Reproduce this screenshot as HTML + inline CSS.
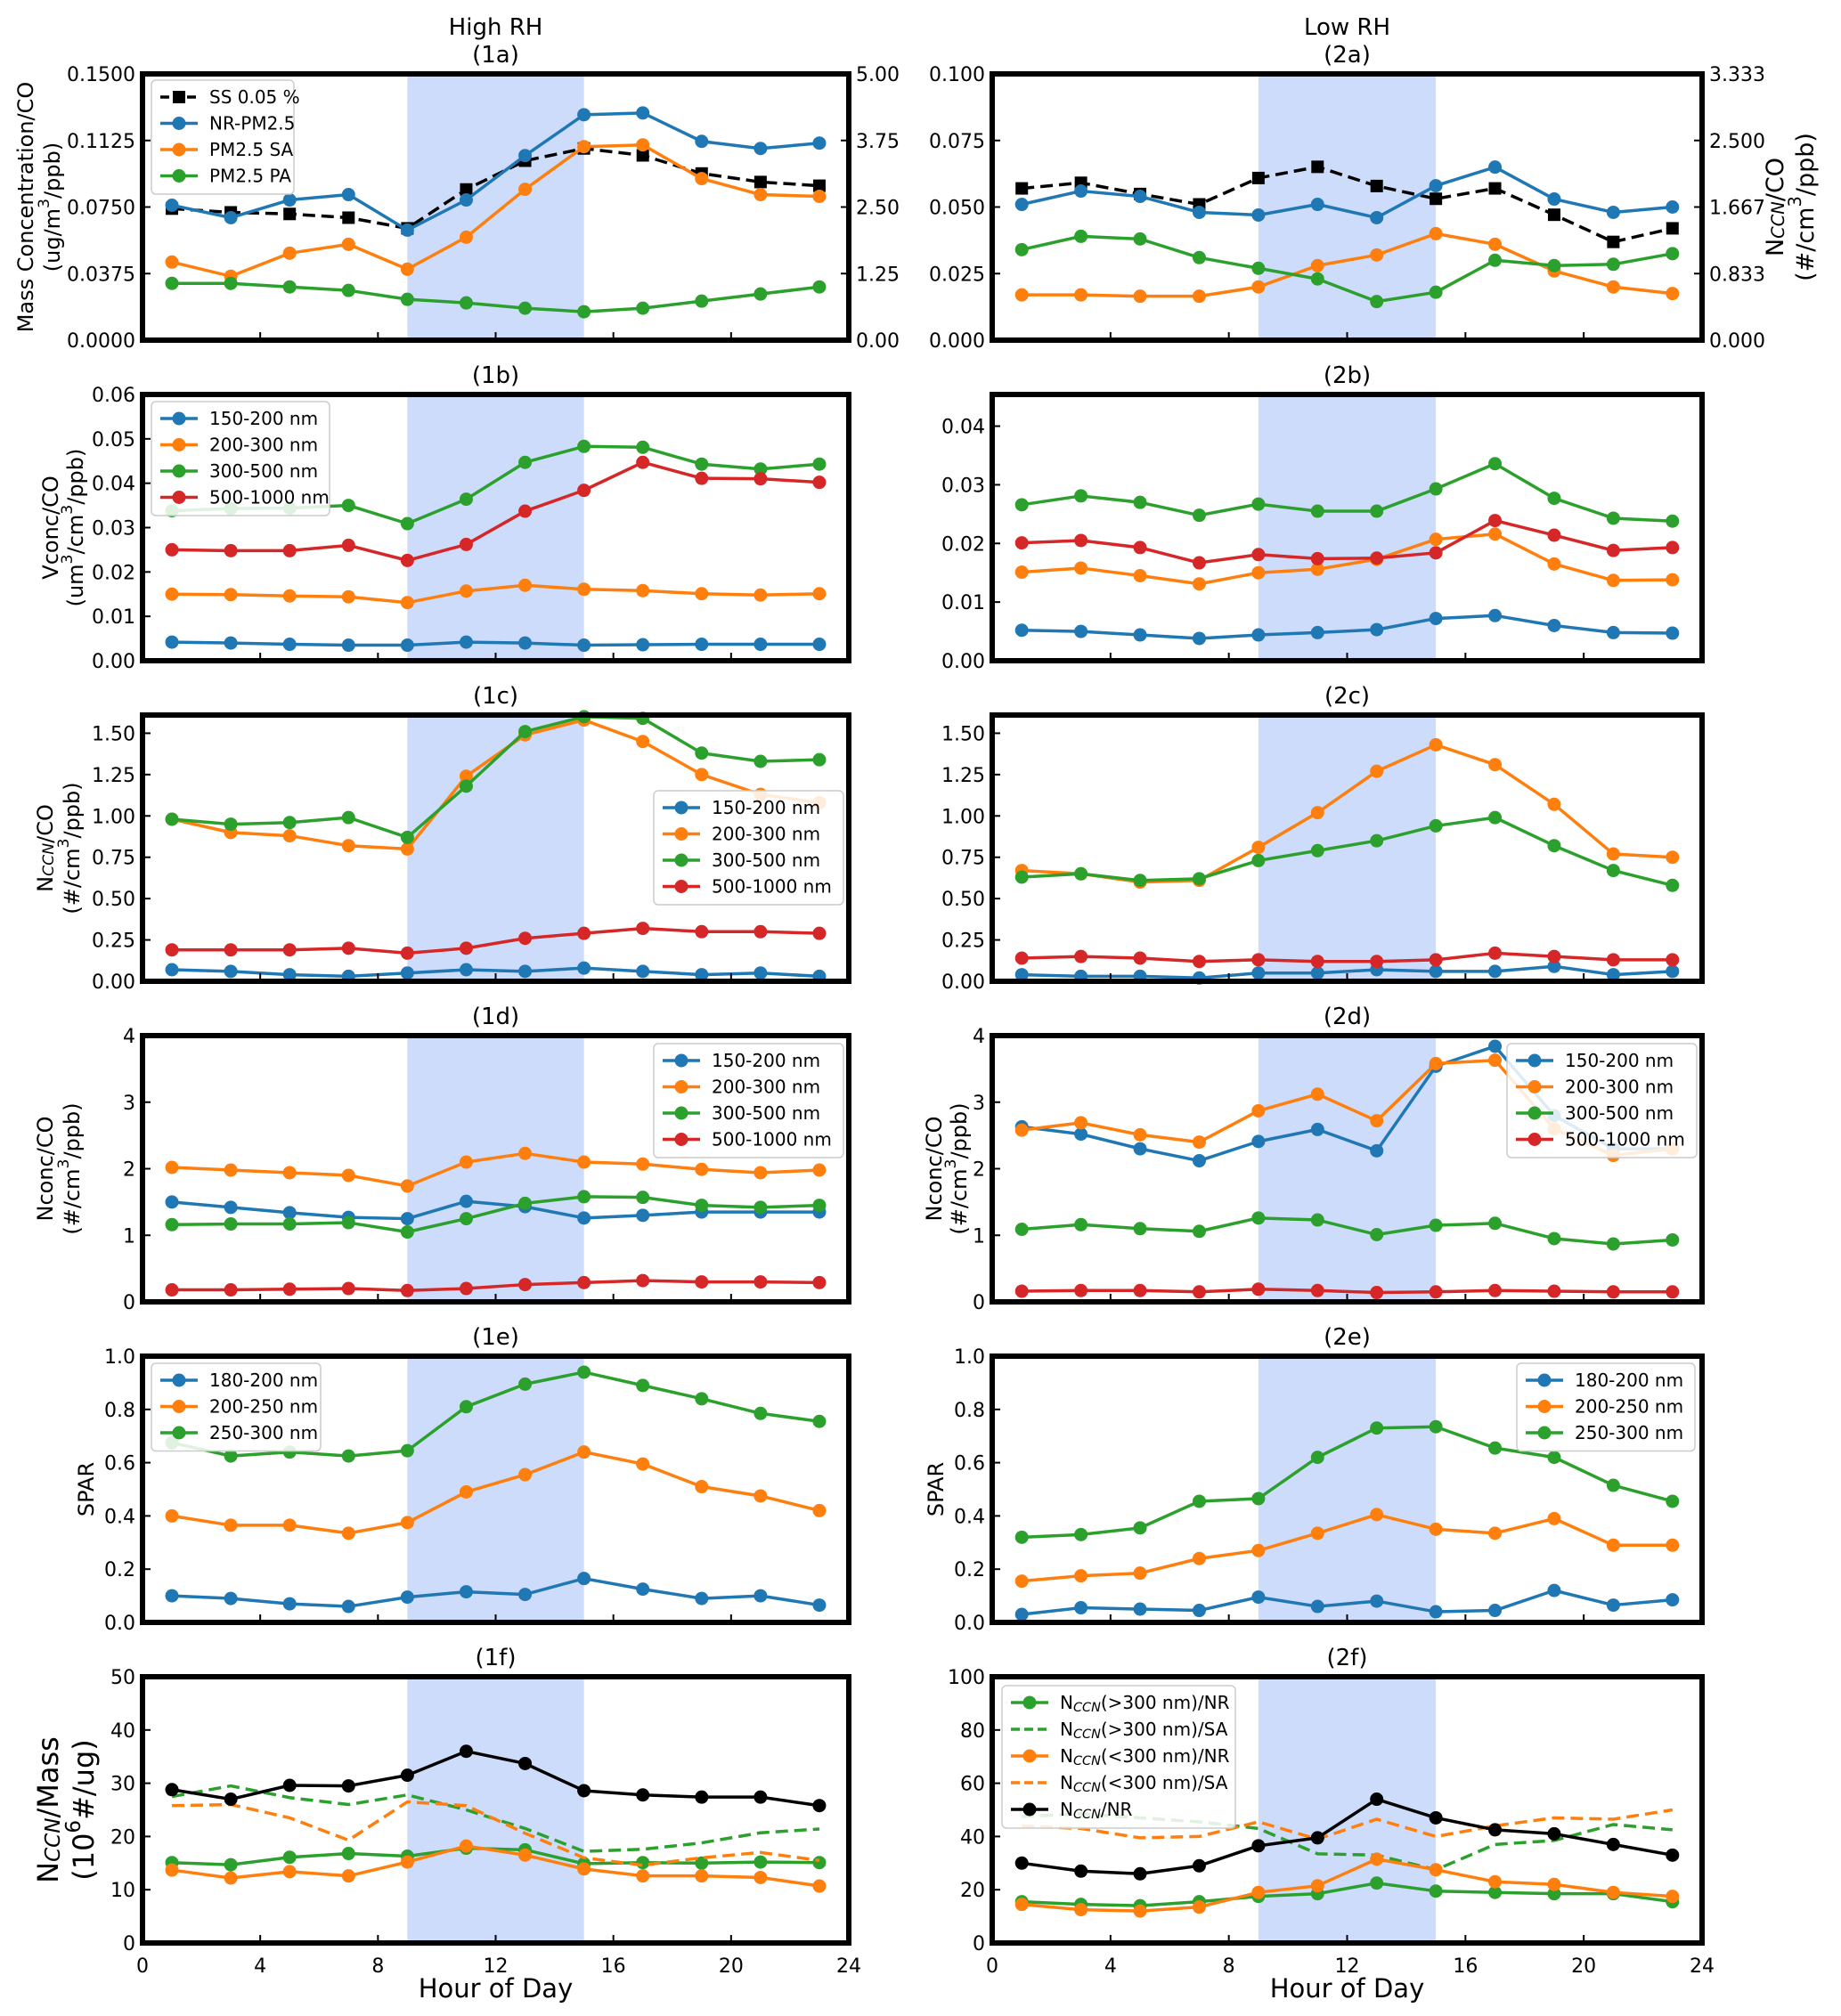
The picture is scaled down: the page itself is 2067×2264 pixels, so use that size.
<!DOCTYPE html>
<html><head><meta charset="utf-8">
<style>
html,body{margin:0;padding:0;background:#fff;}
svg{display:block;font-family:"DejaVu Sans","Liberation Sans",sans-serif;}
</style></head>
<body>
<svg id="fig" width="2067" height="2264" viewBox="0 0 2067 2264" xmlns="http://www.w3.org/2000/svg"></svg>
<script>
const hours=[1,3,5,7,9,11,13,15,17,19,21,23];
const xTicks=[0,4,8,12,16,20,24];
// 1a
const a1_ss=[2.47,2.40,2.37,2.30,2.10,2.83,3.37,3.60,3.47,3.13,2.97,2.90];
const a1_nr=[0.076,0.069,0.079,0.082,0.062,0.079,0.104,0.127,0.128,0.112,0.108,0.111];
const a1_sa=[0.044,0.036,0.049,0.054,0.040,0.058,0.085,0.109,0.110,0.091,0.082,0.081];
const a1_pa=[0.032,0.032,0.030,0.028,0.023,0.021,0.018,0.016,0.018,0.022,0.026,0.030];
// 2a
const a2_ss=[1.90,1.97,1.83,1.70,2.03,2.17,1.93,1.77,1.90,1.57,1.23,1.40];
const a2_nr=[0.051,0.056,0.054,0.048,0.047,0.051,0.046,0.058,0.065,0.053,0.048,0.050];
const a2_sa=[0.017,0.017,0.0165,0.0165,0.020,0.028,0.032,0.040,0.036,0.026,0.020,0.0175];
const a2_pa=[0.034,0.039,0.038,0.031,0.027,0.023,0.0145,0.018,0.030,0.028,0.0285,0.0325];
// 1b
const b1_150=[0.0042,0.0040,0.0037,0.0035,0.0035,0.0042,0.0040,0.0035,0.0036,0.0037,0.0037,0.0037];
const b1_200=[0.0150,0.0149,0.0146,0.0144,0.0131,0.0157,0.0170,0.0161,0.0158,0.0151,0.0148,0.0151];
const b1_300=[0.0338,0.0343,0.0344,0.0350,0.0309,0.0364,0.0447,0.0483,0.0481,0.0443,0.0432,0.0443];
const b1_500=[0.0250,0.0248,0.0248,0.0260,0.0226,0.0262,0.0337,0.0384,0.0447,0.0411,0.0410,0.0402];
// 2b
const b2_150=[0.0052,0.0050,0.0044,0.0038,0.0044,0.0048,0.0053,0.0072,0.0077,0.0060,0.0048,0.0047];
const b2_200=[0.0151,0.0158,0.0145,0.0131,0.0150,0.0156,0.0173,0.0207,0.0216,0.0165,0.0137,0.0138];
const b2_300=[0.0266,0.0281,0.0270,0.0248,0.0267,0.0255,0.0255,0.0293,0.0336,0.0277,0.0243,0.0238];
const b2_500=[0.0201,0.0205,0.0193,0.0167,0.0181,0.0174,0.0175,0.0184,0.0239,0.0214,0.0188,0.0193];
// 1c
const c1_150=[0.07,0.06,0.04,0.03,0.05,0.07,0.06,0.08,0.06,0.04,0.05,0.03];
const c1_200=[0.98,0.90,0.88,0.82,0.80,1.24,1.49,1.58,1.45,1.25,1.13,1.08];
const c1_300=[0.98,0.95,0.96,0.99,0.87,1.18,1.51,1.60,1.59,1.38,1.33,1.34];
const c1_500=[0.19,0.19,0.19,0.20,0.17,0.20,0.26,0.29,0.32,0.30,0.30,0.29];
// 2c
const c2_150=[0.04,0.03,0.03,0.02,0.05,0.05,0.07,0.06,0.06,0.09,0.04,0.06];
const c2_200=[0.67,0.65,0.60,0.61,0.81,1.02,1.27,1.43,1.31,1.07,0.77,0.75];
const c2_300=[0.63,0.65,0.61,0.62,0.73,0.79,0.85,0.94,0.99,0.82,0.67,0.58];
const c2_500=[0.14,0.15,0.14,0.12,0.13,0.12,0.12,0.13,0.17,0.15,0.13,0.13];
// 1d
const d1_150=[1.50,1.42,1.34,1.27,1.25,1.51,1.43,1.26,1.30,1.35,1.35,1.35];
const d1_200=[2.02,1.98,1.94,1.90,1.74,2.10,2.23,2.10,2.07,1.99,1.94,1.98];
const d1_300=[1.16,1.17,1.17,1.19,1.05,1.25,1.48,1.58,1.57,1.45,1.42,1.45];
const d1_500=[0.18,0.18,0.19,0.20,0.17,0.20,0.26,0.29,0.32,0.30,0.30,0.29];
// 2d
const d2_150=[2.63,2.52,2.30,2.12,2.41,2.59,2.27,3.54,3.84,2.80,2.30,2.30];
const d2_200=[2.58,2.69,2.51,2.40,2.87,3.12,2.72,3.58,3.63,2.60,2.20,2.30];
const d2_300=[1.09,1.16,1.10,1.06,1.26,1.23,1.01,1.15,1.18,0.95,0.87,0.93];
const d2_500=[0.16,0.17,0.17,0.15,0.19,0.17,0.14,0.15,0.17,0.16,0.15,0.15];
// 1e
const e1_180=[0.10,0.09,0.07,0.06,0.095,0.115,0.105,0.165,0.125,0.09,0.10,0.065];
const e1_200=[0.40,0.365,0.365,0.335,0.375,0.49,0.555,0.64,0.595,0.51,0.475,0.42];
const e1_250=[0.675,0.625,0.64,0.625,0.645,0.81,0.895,0.94,0.89,0.84,0.785,0.755];
// 2e
const e2_180=[0.03,0.055,0.05,0.045,0.095,0.06,0.08,0.04,0.045,0.12,0.065,0.085];
const e2_200=[0.155,0.175,0.185,0.24,0.27,0.335,0.405,0.35,0.335,0.39,0.29,0.29];
const e2_250=[0.32,0.33,0.355,0.455,0.465,0.62,0.73,0.735,0.655,0.62,0.515,0.455];
// 1f
const f1_all=[28.8,27.0,29.6,29.5,31.5,36.0,33.7,28.6,27.8,27.4,27.4,25.8];
const f1_gtSA=[27.5,29.5,27.3,26.0,27.8,25.0,21.5,17.2,17.6,18.8,20.7,21.4];
const f1_ltSA=[25.8,26.0,23.5,19.3,26.5,25.8,20.6,16.0,14.6,16.0,17.0,15.5];
const f1_gtNR=[15.1,14.7,16.1,16.8,16.3,17.8,17.5,14.9,15.1,15.0,15.2,15.1];
const f1_ltNR=[13.7,12.2,13.4,12.6,15.2,18.2,16.5,13.9,12.6,12.6,12.3,10.7];
// 2f
const f2_all=[30,27,26,29,36.5,39.5,54,47,42.5,41,37,33];
const f2_gtSA=[47.5,48.5,47,45.5,43,33.5,33,27.5,37,38.5,44.5,42.5];
const f2_ltSA=[44,43,39.5,40,45.5,39,46.5,40,44,47,46.5,50];
const f2_gtNR=[15.5,14.5,14,15.5,17.5,18.5,22.5,19.5,19,18.5,18.5,15.5];
const f2_ltNR=[14.5,12.5,12,13.5,19,21.5,31.5,27.5,23,22,19,17.5];

const BLUE='#1f77b4',ORANGE='#ff7f0e',GREEN='#2ca02c',RED='#d62728',BLACK='#000';
const NS='http://www.w3.org/2000/svg';
const svg=document.getElementById('fig');
function mk(tag,attrs,parent){const e=document.createElementNS(NS,tag);for(const k in attrs)e.setAttribute(k,attrs[k]);(parent||svg).appendChild(e);return e;}
function rich(el,str){
  const parts=str.split(/(_\{[^}]*\}|\^\{[^}]*\})/);
  parts.forEach(p=>{
    if(!p)return;
    if(p.startsWith('_{')){
      const t=mk('tspan',{'font-size':'0.72em','font-style':'italic','baseline-shift':'-18%'},el);t.textContent=p.slice(2,-1);
    }else if(p.startsWith('^{')){
      const t=mk('tspan',{'font-size':'0.72em','baseline-shift':'super'},el);t.textContent=p.slice(2,-1);
    }else{const t=mk('tspan',{},el);t.textContent=p;}
  });
}
const L=[160,1114],W=[793,797];
const TOP=[83,443,803,1163,1523,1883],H=299;

const panels=[
 {c:0,r:0,id:'1a',title:'(1a)',head:'High RH',ymax:0.15,yt:[0,0.0375,0.075,0.1125,0.15],fmt:v=>v.toFixed(4),
  rmax:5,rt:[0,1.25,2.5,3.75,5],rfmt:v=>v.toFixed(2),
  yl:['Mass Concentration/CO','(ug/m^{3}/ppb)'],ylx:[30,60],ylf:24,
  series:[{d:a1_ss,c:BLACK,m:'s',dash:true,ax:'r',n:'SS 0.05 %'},{d:a1_nr,c:BLUE,m:'o',n:'NR-PM2.5'},{d:a1_sa,c:ORANGE,m:'o',n:'PM2.5 SA'},{d:a1_pa,c:GREEN,m:'o',n:'PM2.5 PA'}],
  leg:{x:170,y:90,w:160}},
 {c:1,r:0,id:'2a',title:'(2a)',head:'Low RH',ymax:0.1,yt:[0,0.025,0.05,0.075,0.1],fmt:v=>v.toFixed(3),
  rmax:10/3,rt:[0,0.8333,1.6667,2.5,3.3333],rfmt:v=>v.toFixed(3),
  rl:['N_{CCN}/CO','(#/cm^{3}/ppb)'],rlx:[1994,2028],
  series:[{d:a2_ss,c:BLACK,m:'s',dash:true,ax:'r'},{d:a2_nr,c:BLUE,m:'o'},{d:a2_sa,c:ORANGE,m:'o'},{d:a2_pa,c:GREEN,m:'o'}]},
 {c:0,r:1,id:'1b',title:'(1b)',ymax:0.06,yt:[0,0.01,0.02,0.03,0.04,0.05,0.06],fmt:v=>v.toFixed(2),
  yl:['Vconc/CO','(um^{3}/cm^{3}/ppb)'],ylx:[58,86],ylf:24,
  series:[{d:b1_150,c:BLUE,m:'o',n:'150-200 nm'},{d:b1_200,c:ORANGE,m:'o',n:'200-300 nm'},{d:b1_300,c:GREEN,m:'o',n:'300-500 nm'},{d:b1_500,c:RED,m:'o',n:'500-1000 nm'}],
  leg:{x:170,y:451,w:200}},
 {c:1,r:1,id:'2b',title:'(2b)',ymax:0.0454,yt:[0,0.01,0.02,0.03,0.04],fmt:v=>v.toFixed(2),
  series:[{d:b2_150,c:BLUE,m:'o'},{d:b2_200,c:ORANGE,m:'o'},{d:b2_300,c:GREEN,m:'o'},{d:b2_500,c:RED,m:'o'}]},
 {c:0,r:2,id:'1c',title:'(1c)',ymax:1.61,yt:[0,0.25,0.5,0.75,1,1.25,1.5],fmt:v=>v.toFixed(2),
  yl:['N_{CCN}/CO','(#/cm^{3}/ppb)'],ylx:[52,82],ylf:24,
  series:[{d:c1_150,c:BLUE,m:'o',n:'150-200 nm'},{d:c1_200,c:ORANGE,m:'o',n:'200-300 nm'},{d:c1_300,c:GREEN,m:'o',n:'300-500 nm'},{d:c1_500,c:RED,m:'o',n:'500-1000 nm'}],
  leg:{x:734,y:888,w:213}},
 {c:1,r:2,id:'2c',title:'(2c)',ymax:1.61,yt:[0,0.25,0.5,0.75,1,1.25,1.5],fmt:v=>v.toFixed(2),
  series:[{d:c2_150,c:BLUE,m:'o'},{d:c2_200,c:ORANGE,m:'o'},{d:c2_300,c:GREEN,m:'o'},{d:c2_500,c:RED,m:'o'}]},
 {c:0,r:3,id:'1d',title:'(1d)',ymax:4,yt:[0,1,2,3,4],fmt:v=>v.toFixed(0),
  yl:['Nconc/CO','(#/cm^{3}/ppb)'],ylx:[52,82],ylf:24,
  series:[{d:d1_150,c:BLUE,m:'o',n:'150-200 nm'},{d:d1_200,c:ORANGE,m:'o',n:'200-300 nm'},{d:d1_300,c:GREEN,m:'o',n:'300-500 nm'},{d:d1_500,c:RED,m:'o',n:'500-1000 nm'}],
  leg:{x:734,y:1172,w:213}},
 {c:1,r:3,id:'2d',title:'(2d)',ymax:4,yt:[0,1,2,3,4],fmt:v=>v.toFixed(0),
  yl:['Nconc/CO','(#/cm^{3}/ppb)'],ylx:[1050,1078],ylf:24,
  series:[{d:d2_150,c:BLUE,m:'o',n:'150-200 nm'},{d:d2_200,c:ORANGE,m:'o',n:'200-300 nm'},{d:d2_300,c:GREEN,m:'o',n:'300-500 nm'},{d:d2_500,c:RED,m:'o',n:'500-1000 nm'}],
  leg:{x:1692,y:1172,w:213}},
 {c:0,r:4,id:'1e',title:'(1e)',ymax:1,yt:[0,0.2,0.4,0.6,0.8,1],fmt:v=>v.toFixed(1),
  yl:['SPAR'],ylx:[98],ylf:24,
  series:[{d:e1_180,c:BLUE,m:'o',n:'180-200 nm'},{d:e1_200,c:ORANGE,m:'o',n:'200-250 nm'},{d:e1_250,c:GREEN,m:'o',n:'250-300 nm'}],
  leg:{x:170,y:1531,w:190}},
 {c:1,r:4,id:'2e',title:'(2e)',ymax:1,yt:[0,0.2,0.4,0.6,0.8,1],fmt:v=>v.toFixed(1),
  yl:['SPAR'],ylx:[1052],ylf:24,
  series:[{d:e2_180,c:BLUE,m:'o',n:'180-200 nm'},{d:e2_200,c:ORANGE,m:'o',n:'200-250 nm'},{d:e2_250,c:GREEN,m:'o',n:'250-300 nm'}],
  leg:{x:1703,y:1531,w:200}},
 {c:0,r:5,id:'1f',title:'(1f)',ymax:50,yt:[0,10,20,30,40,50],fmt:v=>v.toFixed(0),xlab:true,
  yl:['N_{CCN}/Mass','(10^{6}#/ug)'],ylx:[56,96],ylf:32,
  series:[{d:f1_gtNR,c:GREEN,m:'o'},{d:f1_gtSA,c:GREEN,dash:true},{d:f1_ltNR,c:ORANGE,m:'o'},{d:f1_ltSA,c:ORANGE,dash:true},{d:f1_all,c:BLACK,m:'o'}]},
 {c:1,r:5,id:'2f',title:'(2f)',ymax:100,yt:[0,20,40,60,80,100],fmt:v=>v.toFixed(0),xlab:true,
  series:[{d:f2_gtNR,c:GREEN,m:'o',n:'N_{CCN}(>300 nm)/NR'},{d:f2_gtSA,c:GREEN,dash:true,n:'N_{CCN}(>300 nm)/SA'},{d:f2_ltNR,c:ORANGE,m:'o',n:'N_{CCN}(<300 nm)/NR'},{d:f2_ltSA,c:ORANGE,dash:true,n:'N_{CCN}(<300 nm)/SA'},{d:f2_all,c:BLACK,m:'o',n:'N_{CCN}/NR'}],
  leg:{x:1125,y:1893,w:262}}
];

function marker(g,s,x,y){
  if(s.m==='s'){const e=mk('rect',{x:x-7,y:y-7,width:14,height:14,fill:s.c},g);return e;}
  return mk('circle',{cx:x,cy:y,r:7.5,fill:s.c},g);
}
panels.forEach(p=>{
  const x0=L[p.c],w=W[p.c],y0=TOP[p.r],h=H;
  const g=mk('g',{});
  
  
  const X=v=>x0+v/24*w, Y=v=>y0+h-v/p.ymax*h, YR=v=>y0+h-v/p.rmax*h;
  const sh=mk('rect',{x:X(9),y:y0,width:X(15)-X(9),height:h,fill:'#cddcfb'},g);
  
  
  const t=mk('text',{x:x0+w/2,y:y0-13,'text-anchor':'middle','font-size':26},g);t.textContent=p.title;
  
  
  if(p.head){const hd=mk('text',{x:x0+w/2,y:y0-44,'text-anchor':'middle','font-size':26},g);hd.textContent=p.head;
    
    }
  p.series.forEach(s=>{
    const yf=s.ax==='r'?YR:Y;
    const pts=hours.map((hr,i)=>X(hr)+','+yf(s.d[i])).join(' ');
    const ln=mk('polyline',{points:pts,fill:'none',stroke:s.c,'stroke-width':3.5,'stroke-dasharray':s.dash?'14,7':'none','stroke-linejoin':'round'},g);
    
    
    if(s.m){hours.forEach((hr,i)=>{const mm=marker(g,s,X(hr),yf(s.d[i]));
      
      });}
  });
  p.yt.forEach(v=>{
    mk('line',{x1:x0,x2:x0+9,y1:Y(v),y2:Y(v),stroke:'#000','stroke-width':2},g);
    const tl=mk('text',{x:x0-8,y:Y(v)+8,'text-anchor':'end','font-size':22},g);tl.textContent=p.fmt(v);
    
    
  });
  if(p.rt){p.rt.forEach(v=>{
    mk('line',{x1:x0+w,x2:x0+w-9,y1:YR(v),y2:YR(v),stroke:'#000','stroke-width':2},g);
    const tl=mk('text',{x:x0+w+8,y:YR(v)+8,'text-anchor':'start','font-size':22},g);tl.textContent=p.rfmt(v);
    
    
  });}
  xTicks.forEach(v=>{
    mk('line',{x1:X(v),x2:X(v),y1:y0+h,y2:y0+h-9,stroke:'#000','stroke-width':2},g);
    if(p.xlab){const tl=mk('text',{x:X(v),y:y0+h+33,'text-anchor':'middle','font-size':22},g);tl.textContent=v;
      
      }
  });
  if(p.xlab){const xl=mk('text',{x:x0+w/2,y:2243,'text-anchor':'middle','font-size':29},g);xl.textContent='Hour of Day';
    
    }
  const fr=mk('rect',{x:x0,y:y0,width:w,height:h,fill:'none',stroke:'#000','stroke-width':6},g);
  
  
  const yc=y0+h/2;
  if(p.yl){p.yl.forEach((s,i)=>{const tx=mk('text',{x:p.ylx[i],y:yc,'text-anchor':'middle','font-size':p.ylf,'dominant-baseline':'middle',transform:`rotate(-90 ${p.ylx[i]} ${yc})`},g);rich(tx,s);
    
    });}
  if(p.rl){p.rl.forEach((s,i)=>{const tx=mk('text',{x:p.rlx[i],y:yc,'text-anchor':'middle','font-size':27,'dominant-baseline':'middle',transform:`rotate(-90 ${p.rlx[i]} ${yc})`},g);rich(tx,s);
    
    });}
  if(p.leg){
    const items=p.series.filter(s=>s.n);
    const lg=mk('g',{},g);
    
    
    const rh=p.id==='2f'?30:29.5;
    mk('rect',{x:p.leg.x,y:p.leg.y,width:p.leg.w,height:items.length*rh+10,rx:5,fill:'#fff','fill-opacity':0.85,stroke:'#cccccc','stroke-width':1.5},lg);
    items.forEach((s,i)=>{
      const cy=p.leg.y+19+i*rh, lx=p.leg.x+10;
      const e=mk('g',{},lg);
      
      
      mk('line',{x1:lx,x2:lx+42,y1:cy,y2:cy,stroke:s.c,'stroke-width':3.5,'stroke-dasharray':s.dash?'10,5':'none'},e);
      if(s.m)marker(e,s,lx+21,cy);
      const tx=mk('text',{x:lx+55,y:cy+7,'font-size':20},e);rich(tx,s.n);
    });
  }
});
</script>
</body></html>
